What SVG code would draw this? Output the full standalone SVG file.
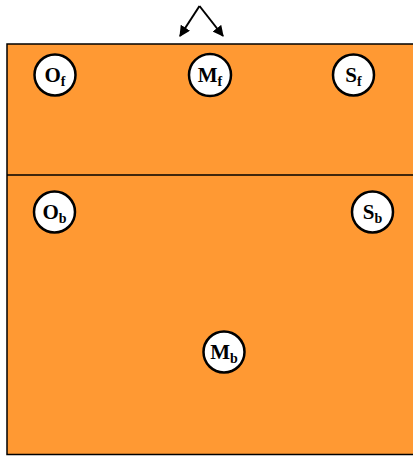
<svg xmlns="http://www.w3.org/2000/svg" width="413" height="457" viewBox="0 0 413 457">
<defs>
<style>
.node circle{fill:#fff;stroke:#000;stroke-width:2.5}
.node text{font-family:"Liberation Serif","Times New Roman",serif;font-weight:bold;font-size:21px;fill:#000;text-anchor:middle}
.node tspan.s{font-size:14px}
.conn{stroke:#000;stroke-width:2;fill:none}
</style>
<marker id="ah" viewBox="0 0 10 10" refX="9" refY="5" markerWidth="11" markerHeight="11" orient="auto" markerUnits="userSpaceOnUse">
<path d="M0,0 L10,5 L0,10 z" fill="#000"/>
</marker>
</defs>
<rect x="7" y="44" width="420" height="410.5" fill="#ff9933" stroke="#000" stroke-width="1.5"/>
<line x1="7" y1="175" x2="413" y2="175" stroke="#000" stroke-width="1.5"/>
<g id="connectors">
<line class="conn" x1="199.5" y1="6" x2="180" y2="36" marker-end="url(#ah)"/>
<line class="conn" x1="199.5" y1="6" x2="223" y2="36" marker-end="url(#ah)"/>
</g>
<g id="Of" class="node"><circle cx="55" cy="75" r="20.5"/><text x="55" y="82">O<tspan class="s" dy="4">f</tspan></text></g>
<g id="Mf" class="node"><circle cx="210" cy="75" r="21"/><text x="210" y="82">M<tspan class="s" dy="4">f</tspan></text></g>
<g id="Sf" class="node"><circle cx="353.5" cy="75" r="20.5"/><text x="353.5" y="82">S<tspan class="s" dy="4">f</tspan></text></g>
<g id="Ob" class="node"><circle cx="54.5" cy="212" r="20.5"/><text x="54.5" y="219">O<tspan class="s" dy="4">b</tspan></text></g>
<g id="Sb" class="node"><circle cx="372.5" cy="212" r="20.5"/><text x="372.5" y="219">S<tspan class="s" dy="4">b</tspan></text></g>
<g id="Mb" class="node"><circle cx="224" cy="352" r="20.5"/><text x="224" y="359">M<tspan class="s" dy="4">b</tspan></text></g>
</svg>
